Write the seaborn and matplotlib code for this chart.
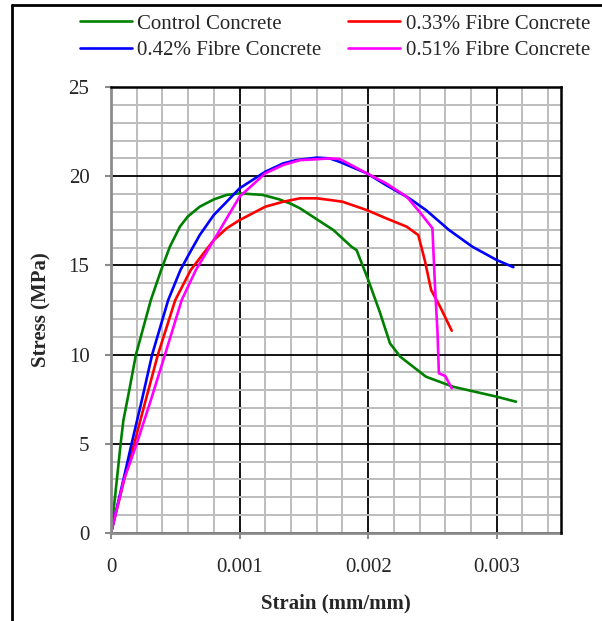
import numpy as np
import pandas as pd
import seaborn as sns
import matplotlib.pyplot as plt
from matplotlib.lines import Line2D
from matplotlib.ticker import MultipleLocator

# Stress-strain values
control_strain = [0, 0.000031, 0.000075, 0.000096, 0.000142, 0.000194, 0.00031, 0.00039,
                  0.000458, 0.000536, 0.000596, 0.00069, 0.0008, 0.0009, 0.001, 0.00118,
                  0.00131, 0.0014, 0.00147, 0.00157, 0.00173, 0.00187, 0.00191, 0.002,
                  0.00209, 0.00217, 0.00225, 0.00245, 0.00266, 0.003, 0.00315]
control_stress = [0, 2.0, 5.0, 6.3, 8.0, 10.0, 13.06, 14.74,
                  16.05, 17.17, 17.73, 18.29, 18.7, 18.95, 19.04, 18.95,
                  18.7, 18.45, 18.2, 17.73, 16.98, 16.05, 15.86, 14.2,
                  12.4, 10.63, 9.88, 8.76, 8.2, 7.64, 7.36]

f033_strain = [0, 0.000115, 0.00018, 0.00027, 0.000365, 0.0005, 0.00062, 0.00072,
               0.0008, 0.0009, 0.001, 0.0012, 0.00134, 0.00147, 0.0016, 0.0017,
               0.0018, 0.00199, 0.00214, 0.0023, 0.00239, 0.00244, 0.00249, 0.00256,
               0.00265]
f033_stress = [0, 3.35, 5.0, 7.45, 10.0, 13.06, 14.74, 15.68,
               16.42, 17.08, 17.54, 18.29, 18.57, 18.76, 18.76, 18.67,
               18.57, 18.1, 17.64, 17.17, 16.7, 15.3, 13.62, 12.68,
               11.34]

f042_strain = [0, 0.000108, 0.00016, 0.00024, 0.00032, 0.000445, 0.00054, 0.000596,
               0.00069, 0.0008, 0.0009, 0.001, 0.0012, 0.00134, 0.00144, 0.0016,
               0.0017, 0.00178, 0.00199, 0.00214, 0.00232, 0.00245, 0.00263, 0.00281,
               0.003, 0.00313]
f042_stress = [0, 3.35, 5.0, 7.45, 10.0, 13.06, 14.74, 15.49,
               16.7, 17.83, 18.57, 19.32, 20.25, 20.72, 20.9, 21.04,
               21.0, 20.8, 20.16, 19.5, 18.76, 18.1, 16.98, 16.05,
               15.3, 14.9]

f051_strain = [0, 0.0001, 0.0002, 0.00031, 0.00042, 0.00055, 0.00066, 0.0008,
               0.0009, 0.001, 0.0012, 0.00134, 0.00147, 0.0016, 0.0017, 0.00178,
               0.00199, 0.00214, 0.0023, 0.0024, 0.00247, 0.0025, 0.00252, 0.00254,
               0.00255, 0.0026, 0.00265]
f051_stress = [0, 2.97, 5.0, 7.45, 10.0, 13.06, 14.74, 16.42,
               17.64, 18.85, 20.16, 20.63, 20.9, 20.95, 21.0, 20.96,
               20.16, 19.6, 18.85, 18.0, 17.36, 17.08, 13.8, 11.2,
               8.95, 8.8, 8.11]

series_names = ["Control Concrete", "0.33% Fibre Concrete",
                "0.42% Fibre Concrete", "0.51% Fibre Concrete"]
series_colors = ["#008000", "#ff0000", "#0000ff", "#ff00ff"]

x_ticks = [0, 0.001, 0.002, 0.003]
x_tick_labels = ["0", "0.001", "0.002", "0.003"]
y_ticks = [0, 5, 10, 15, 20, 25]

# Long-form table for seaborn
frames = []
for name, xs, ys in zip(series_names,
                        [control_strain, f033_strain, f042_strain, f051_strain],
                        [control_stress, f033_stress, f042_stress, f051_stress]):
    frames.append(pd.DataFrame({"strain": xs, "stress": ys, "series": name}))
data = pd.concat(frames, ignore_index=True)

sns.set_theme(style="white")
plt.rcParams["font.family"] = ["Liberation Serif", "DejaVu Serif"]

fig = plt.figure(figsize=(6.02, 6.21), dpi=100)
ax = fig.add_axes([111 / 602, 1 - 533 / 621, 450 / 602, 446 / 621])

sns.lineplot(
    data=data,
    x="strain",
    y="stress",
    hue="series",
    hue_order=series_names,
    palette=series_colors,
    sort=False,
    estimator=None,
    linewidth=1.9,
    solid_joinstyle="round",
    ax=ax,
    legend=False
)

ax.set_xlim(0, 0.0035)
ax.set_ylim(0, 25)
ax.set_xticks(x_ticks)
ax.set_xticklabels(x_tick_labels)
ax.set_yticks(y_ticks)
ax.xaxis.set_minor_locator(MultipleLocator(0.0002))
ax.yaxis.set_minor_locator(MultipleLocator(1))

ax.set_axisbelow(True)
ax.grid(which="minor", color="#bdbdbd", linewidth=1.4)
ax.grid(which="major", color="black", linewidth=1.3)

for side in ["left", "bottom"]:
    ax.spines[side].set_color("#8c8c8c")
    ax.spines[side].set_linewidth(2)
for side in ["top", "right"]:
    ax.spines[side].set_color("black")
    ax.spines[side].set_linewidth(1.8)
    ax.spines[side].set_zorder(5)

ax.tick_params(axis="y", which="major", direction="out", length=4.5, width=1.5,
               color="#8c8c8c", pad=11, labelsize=15, left=True)
ax.tick_params(axis="x", which="major", direction="out", length=4, width=1.5,
               color="#8c8c8c", pad=14, labelsize=15, bottom=True)
ax.tick_params(which="minor", length=0)

ax.set_xlabel("Strain (mm/mm)", fontsize=15, fontweight="bold", labelpad=12)
ax.set_ylabel("Stress (MPa)", fontsize=15, fontweight="bold", labelpad=12)

# Legend in two columns above the plot
handles = [Line2D([0], [0], color=c, linewidth=1.9) for c in series_colors]
order = [0, 2, 1, 3]
fig.legend(
    [handles[i] for i in order],
    [series_names[i] for i in order],
    loc="upper right",
    bbox_to_anchor=(590 / 602, 1 - 14 / 621),
    ncol=2,
    frameon=False,
    fontsize=15,
    handlelength=2.5,
    handletextpad=0.25,
    columnspacing=1.3,
    labelspacing=0.35,
    borderpad=0,
    borderaxespad=0
)

# Outer frame (cropped at right and bottom in the reference)
fig.add_artist(Line2D([12 / 602, 12 / 602], [0, 1 - 5 / 621], color="black",
                      linewidth=2, transform=fig.transFigure))
fig.add_artist(Line2D([12 / 602, 1], [1 - 5 / 621, 1 - 5 / 621], color="black",
                      linewidth=2, transform=fig.transFigure))

fig.savefig("out.png", dpi=100)
